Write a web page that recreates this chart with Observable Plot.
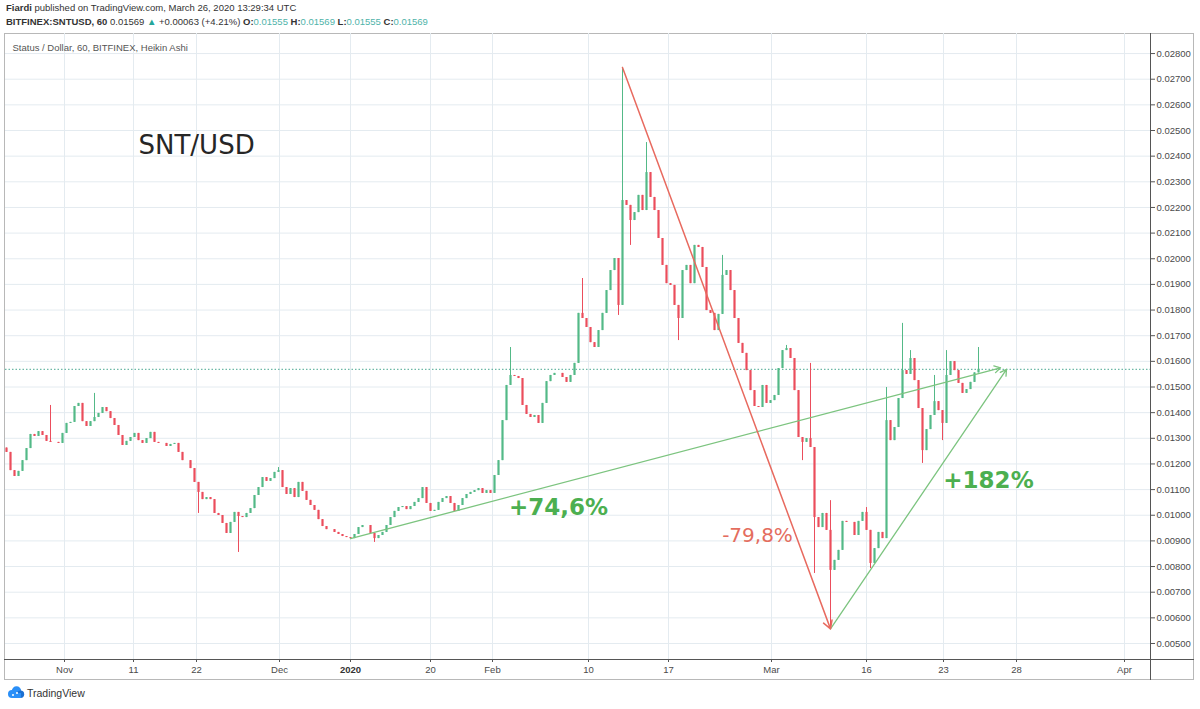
<!DOCTYPE html>
<html><head><meta charset="utf-8">
<script src="https://cdn.jsdelivr.net/npm/d3@7"></script>
<script src="https://cdn.jsdelivr.net/npm/@observablehq/plot@0.6"></script>
<style>
html,body{margin:0;padding:0;background:#fff;}
body{width:1200px;height:709px;position:relative;overflow:hidden;font-family:"Liberation Sans",Arial,sans-serif;color:#333;}
.hdr{position:absolute;left:6px;font-size:9.5px;white-space:nowrap;color:#333;}
.v{color:#4fb3a9;}
#box{position:absolute;left:4px;top:33px;width:1190px;height:647px;border:1px solid #b8b8b8;box-sizing:border-box;}
#vsep{position:absolute;left:1150px;top:33px;width:1px;height:647px;background:#555;}
#hsep{position:absolute;left:4px;top:659px;width:1190px;height:1px;background:#555;}
#chart{position:absolute;left:0;top:33px;}
#logo{position:absolute;left:7px;top:686px;display:flex;align-items:center;font-size:10.5px;color:#333;}
</style></head>
<body>
<div class="hdr" style="top:2px"><b>Fiardi</b> published on TradingView.com, March 26, 2020 13:29:34 UTC</div>
<div class="hdr" style="top:16px"><b>BITFINEX:SNTUSD, 60</b> 0.01569 <span style="color:#26a69a">▲</span> +0.00063 (+4.21%) <b>O:</b><span class="v">0.01555</span> <b>H:</b><span class="v">0.01569</span> <b>L:</b><span class="v">0.01555</span> <b>C:</b><span class="v">0.01569</span></div>
<div id="box"></div>
<div id="chart"></div>
<div id="vsep"></div>
<div id="hsep"></div>
<div id="logo"><svg width="18" height="13" viewBox="0 0 18 13"><circle cx="5" cy="8" r="4" fill="#2a8ff7"/><circle cx="9.5" cy="5" r="4.7" fill="#2a8ff7"/><circle cx="13.5" cy="8.3" r="3.7" fill="#1b6fd1"/><rect x="5" y="7" width="9" height="5" fill="#2a8ff7"/><circle cx="6" cy="9" r="1" fill="#fff"/><circle cx="10" cy="7" r="1" fill="#fff"/></svg><span style="margin-left:2px">TradingView</span></div>
<script>
// Heikin Ashi closes, one candle per bar (bar index = TradingView bar position)
const closes = [
0.01245,0.01174,0.01151,0.01171,0.01213,0.01260,0.01315,0.01307,0.01326,0.01311,
0.01288,0.01284,0.01284,0.01280,0.01319,0.01358,0.01362,0.01424,0.01436,0.01365,
0.01346,0.01365,0.01381,0.01397,0.01420,0.01404,0.01377,0.01350,0.01311,0.01272,
0.01288,0.01303,0.01319,0.01291,0.01280,0.01299,0.01323,0.01284,0.01280,0.01280,
0.01268,0.01276,0.01280,0.01245,0.01213,0.01213,0.01182,0.01128,0.01089,0.01061,
0.01069,0.01061,0.01007,0.00999,0.00968,0.00929,0.00972,0.01011,0.00995,0.00991,
0.01007,0.01026,0.01077,0.01108,0.01147,0.01132,0.01143,0.01167,0.01174,0.01108,
0.01081,0.01104,0.01069,0.01128,0.01093,0.01058,0.01038,0.01019,0.00983,0.00956,
0.00944,0.00944,0.00933,0.00925,0.00917,0.00913,0.00909,0.00925,0.00952,0.00960,
0.00960,0.00929,0.00909,0.00921,0.00933,0.00960,0.00991,0.01015,0.01030,0.01034,
0.01022,0.01034,0.01050,0.01065,0.01108,0.01046,0.01015,0.01019,0.01050,0.01065,
0.01073,0.01046,0.01015,0.01038,0.01065,0.01081,0.01089,0.01096,0.01104,0.01085,
0.01096,0.01085,0.01155,0.01213,0.01369,0.01506,0.01545,0.01541,0.01533,0.01428,
0.01393,0.01381,0.01389,0.01358,0.01436,0.01521,0.01545,0.01553,0.01553,0.01537,
0.01518,0.01545,0.01592,0.01787,0.01767,0.01732,0.01673,0.01654,0.01720,0.01787,
0.01876,0.01954,0.02001,0.01818,0.02227,0.02208,0.02149,0.02180,0.02247,0.02188,
0.02336,0.02239,0.02188,0.02079,0.01974,0.01903,0.01896,0.01818,0.01767,0.01954,
0.01974,0.01903,0.02052,0.02044,0.01966,0.01798,0.01787,0.01720,0.01783,0.01935,
0.01954,0.01876,0.01767,0.01670,0.01631,0.01564,0.01486,0.01424,0.01420,0.01506,
0.01436,0.01447,0.01467,0.01572,0.01642,0.01650,0.01611,0.01486,0.01303,0.01284,
0.01299,0.01264,0.00991,0.00952,0.01007,0.00941,0.00785,0.00824,0.00863,0.00976,
0.00972,0.00972,0.00921,0.00976,0.01011,0.00941,0.00812,0.00870,0.00933,0.00909,
0.01369,0.01291,0.01342,0.01455,0.01564,0.01549,0.01611,0.01525,0.01416,0.01252,
0.01334,0.01389,0.01443,0.01408,0.01358,0.01545,0.01599,0.01564,0.01514,0.01475,
0.01490,0.01518,0.01555,0.01569
];
const firstOpen = 0.01262;
// long wicks visible in the picture
const spikeHighBars = [11,22,68,126,144,154,160,179,195,201,206,215,220,224,226,232,235,243];
const spikeHighs    = [0.01428,0.01475,0.01186,0.01654,0.01923,0.02746,0.02453,0.02013,0.01662,0.01592,0.01057,0.01030,0.01498,0.01748,0.01642,0.01545,0.01642,0.01654];
const spikeLowBars  = [48,58,92,153,156,168,199,202,206,216,229,234];
const spikeLows     = [0.01007,0.00855,0.00894,0.01779,0.02052,0.01681,0.01213,0.00773,0.00557,0.00792,0.01202,0.01291];

// axes
const priceTicks = [0.005,0.006,0.007,0.008,0.009,0.010,0.011,0.012,0.013,0.014,0.015,0.016,0.017,0.018,0.019,0.020,0.021,0.022,0.023,0.024,0.025,0.026,0.027,0.028];
const timeTickLabels = ["Nov","11","22","Dec","2020","20","Feb","10","17","Mar","16","23","28","Apr"];
const timeTickBars   = [14.5,31.75,47.5,68.25,86,106,121.5,145.5,165.5,191.25,215,234.25,252.5,279.5];

// drawings
const moveLabels = ["+74,6%","-79,8%","+182%"];
const moveLabelBars = [138,187.75,245.5];
const moveLabelPrices = [0.01030,0.00921,0.01136];
const peak = {bar:154, price:0.02746};
const bottom = {bar:206, price:0.00557};
const janLow = {bar:86, price:0.00909};
const targetA = {bar:248.5, price:0.01575};
const targetB = {bar:250, price:0.01569};

const UP = "#53b987", DOWN = "#eb4d5c";
const GREEN_LINE = "#7cc47f", RED_LINE = "#e86a5f";

const hiMap = new Map(spikeHighBars.map((b,i)=>[b,spikeHighs[i]]));
const loMap = new Map(spikeLowBars.map((b,i)=>[b,spikeLows[i]]));
const candles = closes.map((c,i)=>{
  const o = i ? closes[i-1] : firstOpen;
  const h = Math.max(o,c, hiMap.has(i)?hiMap.get(i):0);
  const l = Math.min(o,c, loMap.has(i)?loMap.get(i):1);
  return {i,o,c,h,l,col: c>=o?UP:DOWN};
});
const lastPrice = closes[closes.length-1];
const tickLabel = new Map(timeTickBars.map((b,i)=>[b,timeTickLabels[i]]));
const moves = moveLabels.map((t,i)=>({t,x:moveLabelBars[i],y:moveLabelPrices[i]}));

const chart = Plot.plot({
  width:1200, height:647,
  marginLeft:5, marginRight:50, marginTop:0, marginBottom:21,
  x:{type:"linear", domain:[-0.25,286]},
  y:{type:"linear", domain:[0.004376,0.028782]},
  style:{fontFamily:"Liberation Sans, Arial, sans-serif", fontSize:"9.5px", color:"#4a4a4a", background:"transparent", overflow:"visible"},
  marks:[
    Plot.gridY(priceTicks,{stroke:"#e4ebf0", strokeOpacity:1}),
    Plot.gridX(timeTickBars,{stroke:"#e4ebf0", strokeOpacity:1}),
    Plot.ruleY([lastPrice],{stroke:"#4aa892", strokeDasharray:"1.5 2", strokeWidth:1}),
    Plot.ruleX(candles,{x:"i", y1:"l", y2:"h", stroke:"col", strokeWidth:1}),
    Plot.ruleX(candles,{x:"i", y1:"o", y2:"c", stroke:"col", strokeWidth:2.2}),
    Plot.arrow([{x1:janLow.bar,y1:janLow.price,x2:targetA.bar,y2:targetA.price}],{x1:"x1",y1:"y1",x2:"x2",y2:"y2",stroke:GREEN_LINE,strokeWidth:1.3,headLength:8}),
    Plot.arrow([{x1:bottom.bar,y1:bottom.price,x2:targetB.bar,y2:targetB.price}],{x1:"x1",y1:"y1",x2:"x2",y2:"y2",stroke:GREEN_LINE,strokeWidth:1.3,headLength:8}),
    Plot.arrow([{x1:peak.bar,y1:peak.price,x2:bottom.bar,y2:bottom.price}],{x1:"x1",y1:"y1",x2:"x2",y2:"y2",stroke:RED_LINE,strokeWidth:1.5,headLength:9}),
    Plot.text(moves.filter(d=>d.t.startsWith("+")),{x:"x",y:"y",text:"t",fill:"#4caf50",fontSize:23,fontWeight:"bold",fontFamily:"DejaVu Sans"}),
    Plot.text(moves.filter(d=>d.t.startsWith("-")),{x:"x",y:"y",text:"t",fill:"#e46d5e",fontSize:20,fontFamily:"DejaVu Sans"}),
    Plot.text(["SNT/USD"],{frameAnchor:"top-left",dx:133,dy:112,textAnchor:"start",lineAnchor:"middle",fontSize:26,fontFamily:"DejaVu Sans",fill:"#262626"}),
    Plot.text(["Status / Dollar, 60, BITFINEX, Heikin Ashi"],{frameAnchor:"top-left",dx:7,dy:14,textAnchor:"start",lineAnchor:"middle",fontSize:9.5,fill:"#555"}),
    Plot.axisY(priceTicks,{anchor:"right",tickFormat:d3.format(".5f"),tickSize:4,tickPadding:2,stroke:"#555",fill:"#4a4a4a",label:null}),
    Plot.axisX(timeTickBars,{tickFormat:d=>d===86?"":tickLabel.get(d),tickSize:3,tickPadding:4,stroke:"#555",fill:"#4a4a4a",label:null}),
    Plot.axisX([86],{tickFormat:()=>"2020",tickSize:0,tickPadding:7,fontWeight:"bold",fill:"#333",label:null})
  ]
});
document.getElementById("chart").appendChild(chart);
</script>
</body></html>
